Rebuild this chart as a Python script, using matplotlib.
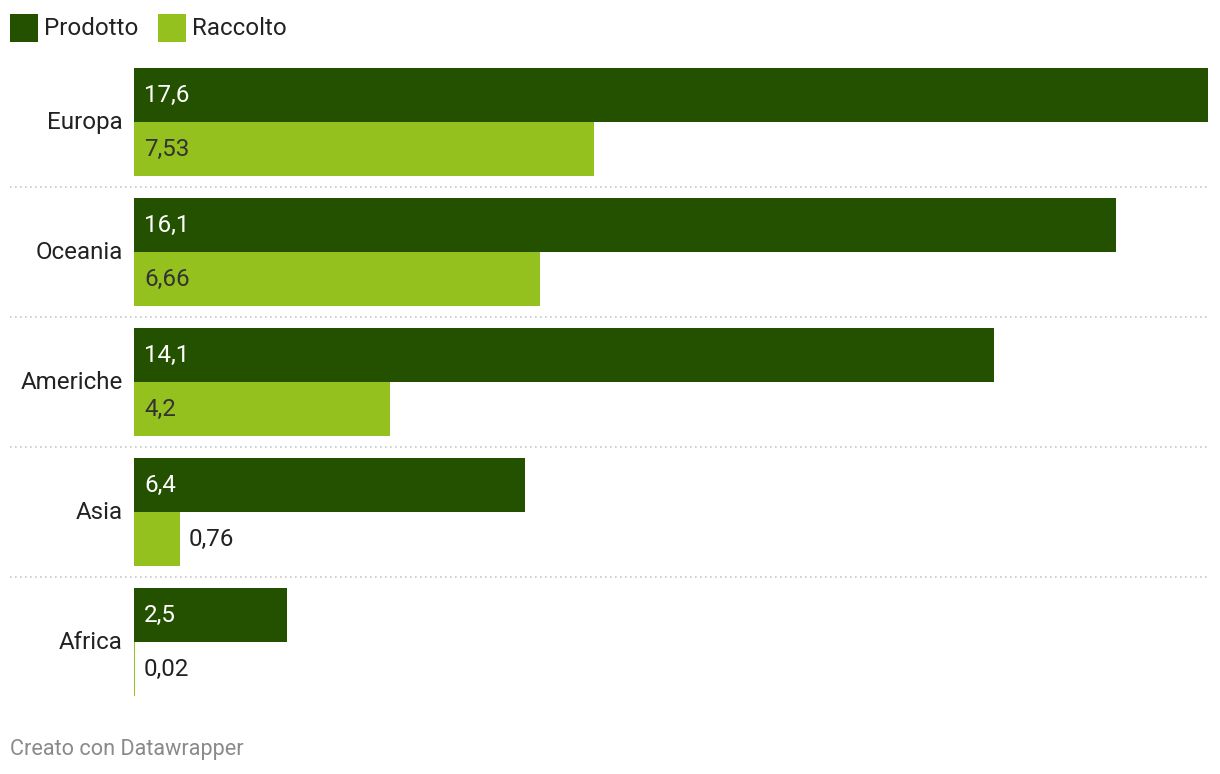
import numpy as np
import matplotlib.pyplot as plt
from matplotlib.patches import Rectangle

plt.rcParams['font.family'] = ['Roboto', 'DejaVu Sans']

regions = ['Europa', 'Oceania', 'Americhe', 'Asia', 'Africa']
prodotto = [17.6, 16.1, 14.1, 6.4, 2.5]
raccolto = [7.53, 6.66, 4.2, 0.76, 0.02]
prodotto_labels = ['17,6', '16,1', '14,1', '6,4', '2,5']
raccolto_labels = ['7,53', '6,66', '4,2', '0,76', '0,02']

dark = '#245100'
light = '#95c11f'
fs = 17.4

W, H = 1220, 774
fig = plt.figure(figsize=(W / 100, H / 100), dpi=100)
fig.patch.set_facecolor('white')

# axes box in pixels: x 134..1208, y 68..696
ax = fig.add_axes([134 / W, (H - 696) / H, (1208 - 134) / W, (696 - 68) / H])
pitch = 130 / 54
n = len(regions)
tops = np.arange(n) * pitch

ax.barh(tops + 0.5, prodotto, height=1, color=dark, linewidth=0)
ax.barh(tops + 1.5, raccolto, height=1, color=light, linewidth=0)
ax.set_xlim(0, 17.6)
ax.set_ylim((n - 1) * pitch + 2, 0)
ax.axis('off')

off = 7.2  # 10px in points
dy = 1.2   # nudge text up a bit
for i in range(n):
    ax.annotate(prodotto_labels[i], (0, tops[i] + 0.5), xytext=(off, dy),
                textcoords='offset points', ha='left', va='center_baseline',
                color='white', fontsize=fs)
    if raccolto[i] > 1:
        ax.annotate(raccolto_labels[i], (0, tops[i] + 1.5), xytext=(off, dy),
                    textcoords='offset points', ha='left', va='center_baseline',
                    color='#333333', fontsize=fs)
    else:
        ax.annotate(raccolto_labels[i], (raccolto[i], tops[i] + 1.5), xytext=(off - 1, dy),
                    textcoords='offset points', ha='left', va='center_baseline',
                    color='#222222', fontsize=fs)
    ax.annotate(regions[i], (0, tops[i] + 1), xytext=(-off - 0.8, dy),
                textcoords='offset points', ha='right', va='center_baseline',
                color='#222222', fontsize=fs)
    if i < n - 1:
        ax.axhline(tops[i] + 2 + 11 / 54, xmin=(10 - 134) / 1074, xmax=1,
                   color='#c8c8c8', linewidth=1.2, linestyle=(0, (1, 2)),
                   clip_on=False)

# legend
for x0, name, col in [(10, 'Prodotto', dark), (158, 'Raccolto', light)]:
    fig.patches.append(Rectangle((x0 / W, (H - 42) / H), 28 / W, 28 / H,
                                 transform=fig.transFigure, color=col, linewidth=0))
    fig.text((x0 + 34) / W, (H - 26) / H, name, ha='left', va='center_baseline',
             color='#222222', fontsize=fs)

fig.text(10 / W, (H - 747) / H, 'Creato con Datawrapper', ha='left', va='center_baseline',
         color='#8a8a8a', fontsize=15.6)

plt.savefig('out.png', dpi=100)
plt.close()
